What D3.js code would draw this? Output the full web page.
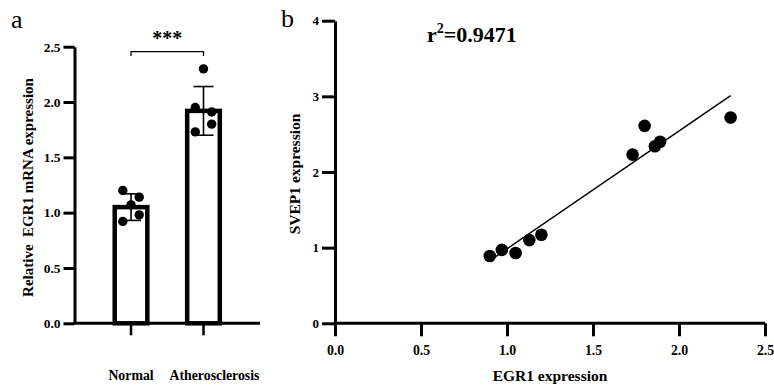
<!DOCTYPE html>
<html>
<head>
<meta charset="utf-8">
<script src="https://cdn.jsdelivr.net/npm/d3@7"></script>
<style>
  body { margin: 0; background: #fff; }
  svg { display: block; }
</style>
</head>
<body>
<svg id="chart" width="774" height="389"></svg>
<script>
// panel a: bar chart of relative EGR1 expression
const groups     = ["Normal", "Atherosclerosis"];
const groupMeans = [1.05, 1.92];
const groupSD    = [0.12, 0.22];
const groupPoints = [
    [1.20, 1.14, 1.07, 0.98, 0.92],
    [2.30, 1.95, 1.91, 1.80, 1.73]
];
const groupJitter = [
    [-1, 1, 0, 1, -1],
    [0, -1, 1, 1, -1]
];
const yTicksA = [0, 0.5, 1.0, 1.5, 2.0, 2.5];
const sigLabel = "***";

// panel b: scatter of EGR1 vs SVEP1
const egr1  = [0.90, 0.97, 1.05, 1.13, 1.20, 1.73, 1.80, 1.86, 1.89, 2.30];
const svep1 = [0.89, 0.97, 0.93, 1.10, 1.17, 2.23, 2.61, 2.34, 2.40, 2.72];
const xTicksB = [0, 0.5, 1.0, 1.5, 2.0, 2.5];
const yTicksB = [0, 1, 2, 3, 4];
const rSquared = "0.9471";

const serif = "Liberation Serif, Times New Roman, serif";
const svg = d3.select("#chart").attr("font-family", serif);

// turn a d3 axis into the GraphPad look: thick black lines, bold serif labels
function styleAxis(ax, fontSize) {
    ax.attr("font-family", serif)
      .attr("font-size", fontSize)
      .attr("font-weight", "bold");
    ax.select(".domain").attr("stroke", "#000").attr("stroke-width", 3);
    ax.selectAll(".tick line").attr("stroke", "#000").attr("stroke-width", 3);
    ax.selectAll(".tick text")
      .attr("fill", "#000")
      .attr("font-family", serif)
      .attr("font-weight", "bold")
      .attr("font-size", fontSize);
}

// ---------------- panel a ----------------
const xA = d3.scaleBand()
    .domain(groups)
    .range([74.5, 260])
    .paddingInner(0.55)
    .paddingOuter(0.555);

const yA = d3.scaleLinear()
    .domain([0, 2.5])
    .range([323.3, 46.7]);

const gA = svg.append("g");

// bars
gA.selectAll("rect.bar")
    .data(groups)
    .join("rect")
    .attr("class", "bar")
    .attr("x", d => xA(d))
    .attr("y", (d, i) => yA(groupMeans[i]))
    .attr("width", xA.bandwidth())
    .attr("height", (d, i) => yA(0) - yA(groupMeans[i]))
    .attr("fill", "#fff")
    .attr("stroke", "#000")
    .attr("stroke-width", 4.5);

// dots
groups.forEach((grp, i) => {
    const cx = xA(grp) + xA.bandwidth() / 2;
    gA.append("g").selectAll("circle")
        .data(groupPoints[i])
        .join("circle")
        .attr("cx", (d, j) => cx + groupJitter[i][j] * 8.2)
        .attr("cy", d => yA(d))
        .attr("r", 4.7)
        .attr("fill", "#000");
});

// error bars (mean +/- SD)
groups.forEach((grp, i) => {
    const cx = xA(grp) + xA.bandwidth() / 2;
    const lo = yA(groupMeans[i] - groupSD[i]);
    const hi = yA(groupMeans[i] + groupSD[i]);
    const eb = gA.append("g").attr("stroke", "#000").attr("stroke-width", 1.6);
    eb.append("line").attr("x1", cx).attr("x2", cx).attr("y1", lo).attr("y2", hi);
    eb.append("line").attr("x1", cx - 10).attr("x2", cx + 10).attr("y1", hi).attr("y2", hi);
    eb.append("line").attr("x1", cx - 10).attr("x2", cx + 10).attr("y1", lo).attr("y2", lo);
});

// axes
const axA_y = gA.append("g").attr("transform", "translate(74.5,0)");
axA_y.call(d3.axisLeft(yA).tickValues(yTicksA).tickFormat(d3.format(".1f"))
        .tickSize(11).tickSizeOuter(0).tickPadding(3));
styleAxis(axA_y, 13.5);

const axA_x = gA.append("g").attr("transform", "translate(0,323.3)");
axA_x.call(d3.axisBottom(xA).tickSize(12).tickSizeOuter(0).tickPadding(35));
styleAxis(axA_x, 13.8);
axA_x.select(".domain").attr("d", "M73,0H260");
axA_x.selectAll(".tick line").attr("stroke-width", 2.5);
axA_x.selectAll(".tick text")
    .filter(d => d === "Atherosclerosis")
    .attr("dx", 11);

// significance bracket
const bx1 = xA(groups[0]) + xA.bandwidth() / 2;
const bx2 = xA(groups[1]) + xA.bandwidth() / 2;
gA.append("path")
    .attr("d", `M${bx1},56V51.7H${bx2}V56`)
    .attr("fill", "none")
    .attr("stroke", "#000")
    .attr("stroke-width", 1.3);
gA.append("text")
    .attr("x", (bx1 + bx2) / 2)
    .attr("y", 45)
    .attr("text-anchor", "middle")
    .attr("font-size", "20px")
    .attr("font-weight", "bold")
    .text(sigLabel);

// y title
gA.append("text")
    .attr("transform", "translate(32.5,187.5) rotate(-90)")
    .attr("text-anchor", "middle")
    .attr("font-size", "15px")
    .attr("font-weight", "bold")
    .style("white-space", "pre")
    .text("Relative  EGR1 mRNA expression");

// panel letter
svg.append("text")
    .attr("x", 11).attr("y", 28)
    .attr("font-size", "26px")
    .text("a");

// ---------------- panel b ----------------
const xB = d3.scaleLinear().domain([0, 2.5]).range([335, 765]);
const yB = d3.scaleLinear().domain([0, 4]).range([323.3, 20.7]);

const gB = svg.append("g");

// least squares fit from the points
const mx = d3.mean(egr1), my = d3.mean(svep1);
const sxy = d3.sum(egr1, (x, i) => (x - mx) * (svep1[i] - my));
const sxx = d3.sum(egr1, x => (x - mx) * (x - mx));
const slope = sxy / sxx;
const intercept = my - slope * mx;
const [xmin, xmax] = d3.extent(egr1);

gB.append("line")
    .attr("x1", xB(xmin)).attr("y1", yB(intercept + slope * xmin))
    .attr("x2", xB(xmax)).attr("y2", yB(intercept + slope * xmax))
    .attr("stroke", "#000")
    .attr("stroke-width", 1.5);

gB.append("g").selectAll("circle")
    .data(egr1)
    .join("circle")
    .attr("cx", d => xB(d))
    .attr("cy", (d, i) => yB(svep1[i]))
    .attr("r", 6.3)
    .attr("fill", "#000");

const axB_y = gB.append("g").attr("transform", "translate(335,0)");
axB_y.call(d3.axisLeft(yB).tickValues(yTicksB).tickFormat(d3.format("d"))
        .tickSize(13).tickSizeOuter(0).tickPadding(3));
styleAxis(axB_y, 13);

const axB_x = gB.append("g").attr("transform", "translate(0,323.3)");
axB_x.call(d3.axisBottom(xB).tickValues(xTicksB).tickFormat(d3.format(".1f"))
        .tickSize(13).tickSizeOuter(0).tickPadding(9));
styleAxis(axB_x, 13.8);
axB_x.select(".domain").attr("d", "M333.5,0H765");

gB.append("text")
    .attr("x", 550).attr("y", 381)
    .attr("text-anchor", "middle")
    .attr("font-size", "15.5px")
    .attr("font-weight", "bold")
    .text("EGR1 expression");

gB.append("text")
    .attr("transform", "translate(300,174) rotate(-90)")
    .attr("text-anchor", "middle")
    .attr("font-size", "15.5px")
    .attr("font-weight", "bold")
    .text("SVEP1 expression");

// r squared label
const rt = gB.append("text")
    .attr("x", 427).attr("y", 42)
    .attr("font-size", "22px")
    .attr("font-weight", "bold");
rt.append("tspan").text("r");
rt.append("tspan").attr("font-size", "14px").attr("dy", -9).text("2");
rt.append("tspan").attr("dy", 9).text("=" + rSquared);

svg.append("text")
    .attr("x", 281).attr("y", 27)
    .attr("font-size", "26px")
    .text("b");
</script>
</body>
</html>
